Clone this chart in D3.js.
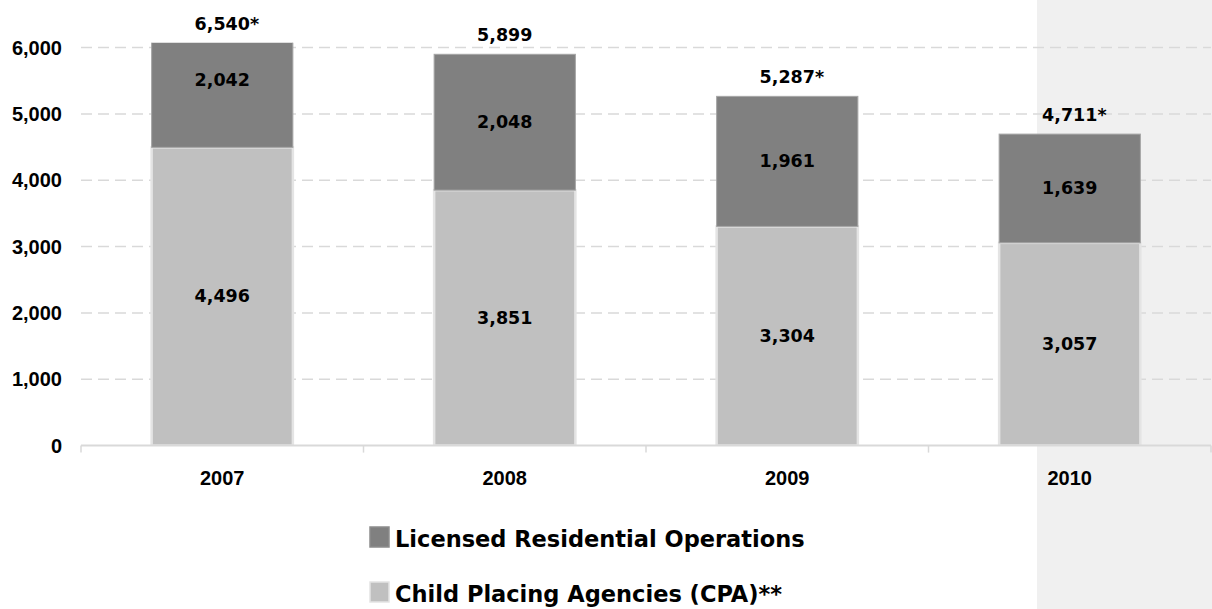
<!DOCTYPE html>
<html lang="en">
<head>
<meta charset="utf-8">
<title>Licensed operations stacked bar</title>
<script src="https://cdn.jsdelivr.net/npm/d3@7"></script>
<style>
body { margin: 0; background: #fff; }
.axis text { font-family: "Liberation Sans", Arial, sans-serif; font-weight: bold; font-size: 20px; fill: #000; }
.lbl { font-family: "DejaVu Sans", sans-serif; font-weight: bold; font-size: 17.5px; fill: #000; }
.legend text { font-family: "DejaVu Sans", sans-serif; font-weight: bold; font-size: 22.5px; fill: #000; }
</style>
</head>
<body>
<script>
// data
var years = ["2007", "2008", "2009", "2010"];
var cpa = [4496, 3851, 3304, 3057];          // Child Placing Agencies (CPA)**
var residential = [2042, 2048, 1961, 1639];  // Licensed Residential Operations
var totalLabels = ["6,540*", "5,899", "5,287*", "4,711*"];
var yTicks = [0, 1000, 2000, 3000, 4000, 5000, 6000];

var w = 1212, h = 609;
var left = 81, right = 1211;
var y0 = 445.6, y6000 = 47.6;

var svg = d3.select("body").append("svg")
  .attr("width", w).attr("height", h);

// shaded band on the right
svg.append("rect")
  .attr("x", 1037).attr("y", 0)
  .attr("width", w - 1037).attr("height", h)
  .attr("fill", "#f0f0f0");

var x = d3.scaleBand().domain(years).range([left, right]).paddingInner(0).paddingOuter(0);
var y = d3.scaleLinear().domain([0, 6000]).range([y0, y6000]);
var plotTop = y(6075);

// gridlines
svg.append("g")
  .selectAll("line")
  .data(yTicks.filter(function(d) { return d > 0; }))
  .enter().append("line")
  .attr("x1", left).attr("x2", right)
  .attr("y1", function(d) { return y(d); })
  .attr("y2", function(d) { return y(d); })
  .attr("stroke", "#d9d9d9")
  .attr("stroke-width", 1.5)
  .attr("stroke-dasharray", "11,6");

// clip to plot area
svg.append("clipPath").attr("id", "plot")
  .append("rect")
  .attr("x", left).attr("y", plotTop)
  .attr("width", right - left).attr("height", y0 - plotTop);

var rows = years.map(function(yr, i) {
  return { year: yr, cpa: cpa[i], res: residential[i], label: totalLabels[i] };
});

var bw = x.bandwidth() * 0.5;
var bars = svg.append("g").attr("clip-path", "url(#plot)");

bars.selectAll(".cpa")
  .data(rows).enter().append("rect")
  .attr("class", "cpa")
  .attr("x", function(d) { return x(d.year) + (x.bandwidth() - bw) / 2; })
  .attr("width", bw)
  .attr("y", function(d) { return y(d.cpa); })
  .attr("height", function(d) { return y(0) - y(d.cpa); })
  .attr("fill", "#c0c0c0")
  .attr("stroke", "#e4e4e4")
  .attr("stroke-width", 2.5);

bars.selectAll(".res")
  .data(rows).enter().append("rect")
  .attr("class", "res")
  .attr("x", function(d) { return x(d.year) + (x.bandwidth() - bw) / 2; })
  .attr("width", bw)
  .attr("y", function(d) { return y(d.cpa + d.res); })
  .attr("height", function(d) { return y(d.cpa) - y(d.cpa + d.res); })
  .attr("fill", "#808080")
  .attr("stroke", "#a6a6a6")
  .attr("stroke-width", 1);

// x axis line and ticks
svg.append("line")
  .attr("x1", left).attr("x2", right)
  .attr("y1", y0).attr("y2", y0)
  .attr("stroke", "#d9d9d9").attr("stroke-width", 2);

var xAxis = d3.axisBottom(x).tickSize(0).tickPadding(0);
var gx = svg.append("g").attr("class", "axis")
  .attr("transform", "translate(0," + y0 + ")")
  .call(xAxis);
gx.select(".domain").remove();
gx.selectAll("text").attr("dy", null).attr("y", 39.5);

svg.append("g").selectAll("line")
  .data(years.map(function(d) { return x(d); }).concat([right]))
  .enter().append("line")
  .attr("x1", function(d) { return d; }).attr("x2", function(d) { return d; })
  .attr("y1", y0).attr("y2", y0 + 7)
  .attr("stroke", "#d9d9d9").attr("stroke-width", 1.5);

// y axis labels
var yAxis = d3.axisLeft(y).tickValues(yTicks).tickSize(0).tickPadding(0)
  .tickFormat(d3.format(","));
var gy = svg.append("g").attr("class", "axis")
  .attr("transform", "translate(62,0)")
  .call(yAxis);
gy.select(".domain").remove();

// segment labels (centred on the unclipped segments)
svg.append("g").selectAll("text")
  .data(rows).enter().append("text")
  .attr("class", "lbl")
  .attr("text-anchor", "middle")
  .attr("dominant-baseline", "central")
  .attr("x", function(d) { return x(d.year) + x.bandwidth() / 2; })
  .attr("y", function(d) { return (y(0) + y(d.cpa)) / 2; })
  .text(function(d) { return d3.format(",")(d.cpa); });

svg.append("g").selectAll("text")
  .data(rows).enter().append("text")
  .attr("class", "lbl")
  .attr("text-anchor", "middle")
  .attr("dominant-baseline", "central")
  .attr("x", function(d) { return x(d.year) + x.bandwidth() / 2; })
  .attr("y", function(d) { return (y(d.cpa) + y(d.cpa + d.res)) / 2; })
  .text(function(d) { return d3.format(",")(d.res); });

// totals above bars; number centred, asterisk hanging to the right
svg.append("g").selectAll("text")
  .data(rows).enter().append("text")
  .attr("class", "lbl")
  .attr("dominant-baseline", "central")
  .attr("y", function(d) { return Math.max(y(d.cpa + d.res), plotTop) - 19; })
  .text(function(d) { return d.label; })
  .attr("x", function(d) {
    var num = d.label.replace(/\*/g, "");
    var tmp = svg.append("text").attr("class", "lbl").text(num);
    var nw = tmp.node().getComputedTextLength();
    tmp.remove();
    return x(d.year) + x.bandwidth() / 2 - nw / 2;
  });

// legend
var legend = svg.append("g").attr("class", "legend");
var items = [
  { name: "Licensed Residential Operations", fill: "#808080", stroke: "#8c8c8c" },
  { name: "Child Placing Agencies (CPA)**", fill: "#c0c0c0", stroke: "#e4e4e4" }
];
items.forEach(function(it, i) {
  var top = 527 + i * 55;
  legend.append("rect")
    .attr("x", 370).attr("y", top)
    .attr("width", 19).attr("height", 20)
    .attr("fill", it.fill)
    .attr("stroke", it.stroke).attr("stroke-width", 1.5);
  legend.append("text")
    .attr("x", 395).attr("y", top + 20)
    .text(it.name);
});
</script>
</body>
</html>
